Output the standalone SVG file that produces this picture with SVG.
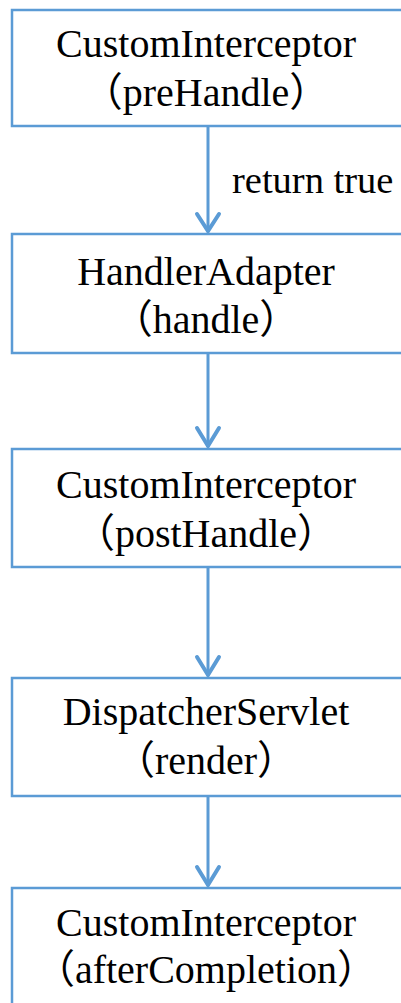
<svg xmlns="http://www.w3.org/2000/svg" width="401" height="1003" viewBox="0 0 401 1003">
<style>
.box{fill:#fff;stroke:#5B9BD5;stroke-width:2.5}
.t{font-family:"Liberation Serif","Noto Sans CJK SC",serif;font-size:40px;fill:#000;text-anchor:middle}
.lbl{font-family:"Liberation Serif","Noto Sans CJK SC",serif;font-size:38.5px;fill:#000}
.edge{stroke:#5B9BD5;stroke-width:3;fill:none}
.head{stroke:#5B9BD5;stroke-width:4;fill:none;stroke-linecap:round;stroke-linejoin:miter}
</style>
<rect width="401" height="1003" fill="#fff"/>
<g id="connectors">
<line class="edge" x1="208" y1="127" x2="208" y2="232"/>
<polyline class="head" points="197,214 208,231 219,214"/>
<line class="edge" x1="208" y1="354" x2="208" y2="447"/>
<polyline class="head" points="197,428 208,446 219,428"/>
<line class="edge" x1="208" y1="568" x2="208" y2="676"/>
<polyline class="head" points="197,657 208,675 219,657"/>
<line class="edge" x1="208" y1="797" x2="208" y2="886"/>
<polyline class="head" points="197,867 208,885 219,867"/>
<text class="lbl" x="232" y="193">return true</text>
</g>
<g id="node1">
<rect class="box" x="12" y="10" width="400" height="116"/>
<text class="t" x="206" y="57">CustomInterceptor</text>
<text class="t" x="206" y="106">（preHandle）</text>
</g>
<g id="node2">
<rect class="box" x="12" y="234" width="400" height="119"/>
<text class="t" x="206" y="285">HandlerAdapter</text>
<text class="t" x="206" y="333">（handle）</text>
</g>
<g id="node3">
<rect class="box" x="12" y="449" width="400" height="118"/>
<text class="t" x="206" y="498">CustomInterceptor</text>
<text class="t" x="206" y="547">（postHandle）</text>
</g>
<g id="node4">
<rect class="box" x="12" y="678" width="400" height="118"/>
<text class="t" x="206" y="725">DispatcherServlet</text>
<text class="t" x="206" y="774">（render）</text>
</g>
<g id="node5">
<rect class="box" x="12" y="888" width="400" height="130"/>
<text class="t" x="206" y="936">CustomInterceptor</text>
<text class="t" x="206" y="983">（afterCompletion）</text>
</g>
</svg>
